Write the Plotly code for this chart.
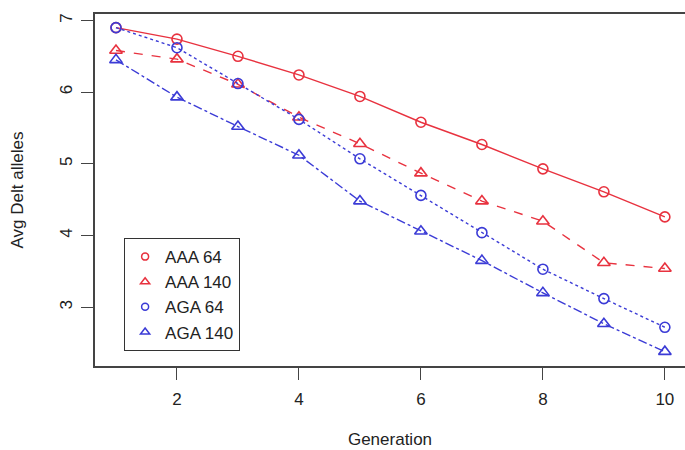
import plotly.graph_objects as go

# Average number of deleterious alleles per generation
generation = [1, 2, 3, 4, 5, 6, 7, 8, 9, 10]
aaa_64 = [6.90, 6.74, 6.50, 6.24, 5.94, 5.58, 5.27, 4.93, 4.61, 4.26]
aaa_140 = [6.58, 6.46, 6.11, 5.65, 5.28, 4.87, 4.48, 4.20, 3.62, 3.54]
aga_64 = [6.90, 6.62, 6.12, 5.62, 5.07, 4.56, 4.04, 3.53, 3.12, 2.72]
aga_140 = [6.45, 5.93, 5.52, 5.12, 4.48, 4.06, 3.65, 3.20, 2.77, 2.38]

x_ticks = [2, 4, 6, 8, 10]
y_ticks = [3, 4, 5, 6, 7]

RED = "#e8323f"
BLUE = "#3b3bd6"
FONT = "Liberation Sans, Arial, Helvetica, sans-serif"

series = [
    ("AAA 64", aaa_64, RED, "solid", "circle-open", 10),
    ("AAA 140", aaa_140, RED, "dash", "triangle-up-open", 11),
    ("AGA 64", aga_64, BLUE, "dot", "circle-open", 10),
    ("AGA 140", aga_140, BLUE, "dashdot", "triangle-up-open", 11),
]

fig = go.Figure()

# lines with point symbols for each series
for name, vals, color, dash, symbol, size in series:
    fig.add_trace(go.Scatter(
        x=generation, y=vals, mode="lines+markers", name=name,
        showlegend=False,
        line=dict(color=color, width=1.4, dash=dash),
        marker=dict(symbol=symbol, size=size, color=color,
                    line=dict(color=color, width=1.6)),
    ))

# legend keys: symbol only, drawn a little smaller than the plotted points
for name, vals, color, dash, symbol, size in series:
    fig.add_trace(go.Scatter(
        x=[None], y=[None], mode="markers", name=name,
        marker=dict(symbol=symbol, size=size - 3, color=color,
                    line=dict(color=color, width=1.5)),
    ))

axis_common = dict(
    showgrid=False, zeroline=False, showline=True,
    linecolor="#444444", linewidth=1.5,
    ticks="outside", ticklen=12, tickwidth=1.2, tickcolor="#444444",
    tickfont=dict(family=FONT, size=17, color="#222222"),
)

fig.update_layout(
    width=685, height=450,
    margin=dict(l=95, r=0, t=14, b=84),
    paper_bgcolor="white", plot_bgcolor="white",
    font=dict(family=FONT, size=17, color="#222222"),
    xaxis=dict(
        axis_common, range=[0.656, 10.33], tickvals=x_ticks,
        mirror=True, ticklabelstandoff=5,
        title=dict(text="Generation", font=dict(family=FONT, size=17), standoff=25),
    ),
    yaxis=dict(
        axis_common, range=[2.18, 7.09], tickvals=y_ticks,
        tickangle=-90, ticklabelstandoff=2,
        title=dict(text="Avg Delt alleles", font=dict(family=FONT, size=17), standoff=30),
    ),
    legend=dict(
        x=0.049, y=0.364, xanchor="left", yanchor="top",
        bgcolor="white", bordercolor="#333333", borderwidth=1.2,
        font=dict(family=FONT, size=17, color="#222222"),
        itemwidth=30, tracegroupgap=0,
    ),
)

fig.write_html("out.html")
